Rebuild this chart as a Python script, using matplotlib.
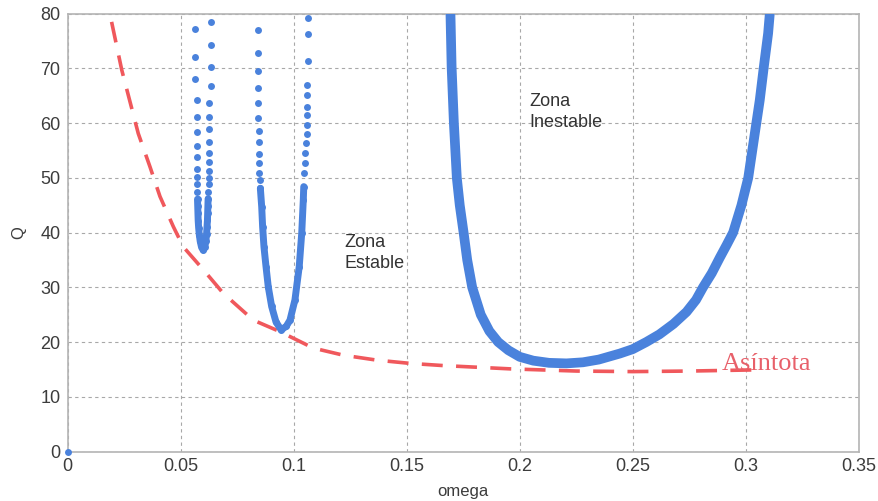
import numpy as np
import matplotlib
matplotlib.use("Agg")
import matplotlib.pyplot as plt

plt.rcParams["font.family"] = ["Liberation Sans", "DejaVu Sans"]

# curva 1 (omega ~ 0.06)
w1 = [0.0564, 0.0564, 0.0564, 0.0571, 0.0571, 0.0571, 0.0571, 0.0571, 0.0571,
      0.0572, 0.0573, 0.0574, 0.0575, 0.0576, 0.0577, 0.0578, 0.0580, 0.0583,
      0.0587, 0.0593, 0.0600, 0.0607, 0.0612, 0.0615, 0.0617, 0.0619, 0.0620,
      0.0621, 0.0622, 0.0623, 0.0624, 0.0625, 0.0626, 0.0627, 0.0627, 0.0627,
      0.0627, 0.0627, 0.0627, 0.0635, 0.0635, 0.0635, 0.0635]
q1 = [77.2, 72.0, 68.0, 64.2, 61.2, 58.3, 55.9, 53.8, 51.7,
      50.2, 48.8, 47.4, 46.1, 44.8, 43.5, 42.2, 40.9, 39.6,
      38.4, 37.3, 36.8, 37.4, 38.5, 39.7, 41.0, 42.3, 43.6,
      44.9, 46.2, 47.5, 48.8, 50.0, 51.3, 52.9, 54.5, 56.5,
      58.9, 61.2, 63.7, 66.8, 70.3, 74.2, 78.5]

# curva 2 (omega ~ 0.095)
w2 = [0.0844, 0.0844, 0.0844, 0.0844, 0.0844, 0.0844, 0.0848, 0.0848, 0.0848,
      0.0848, 0.0848, 0.0850, 0.0853, 0.0859, 0.0863, 0.0869, 0.0878, 0.0888,
      0.0903, 0.0922, 0.0945, 0.0968, 0.0984, 0.1006, 0.1025, 0.1036, 0.1043,
      0.1045, 0.1046, 0.1050, 0.1052, 0.1055, 0.1058, 0.1060, 0.1060, 0.1060,
      0.1060, 0.1060, 0.1065, 0.1065, 0.1065]
q2 = [77.0, 72.9, 69.5, 66.4, 63.6, 60.9, 58.6, 56.5, 54.4,
      52.7, 50.9, 49.6, 48.1, 44.7, 41.1, 37.4, 33.8, 30.1,
      26.5, 23.7, 22.2, 22.9, 24.0, 27.7, 33.8, 39.9, 46.0,
      48.4, 50.8, 52.7, 54.5, 56.3, 58.1, 59.7, 61.5, 63.0,
      65.1, 67.0, 71.4, 76.2, 79.2]

# curva 3 (omega ~ 0.22)
w3 = [0.1694, 0.1699, 0.1709, 0.1722, 0.1735, 0.1752, 0.1768, 0.1790, 0.1828,
      0.1866, 0.1905, 0.1950, 0.2000, 0.2060, 0.2130, 0.2207, 0.2280, 0.2350,
      0.2443, 0.2500, 0.2560, 0.2618, 0.2680, 0.2738, 0.2780, 0.2811, 0.2850,
      0.2885, 0.2915, 0.2944, 0.2981, 0.3011, 0.3040, 0.3062, 0.3080, 0.3099,
      0.3106]
q3 = [79.8, 70.3, 60.0, 50.0, 45.0, 40.0, 35.0, 30.0, 25.0,
      22.0, 20.0, 18.5, 17.3, 16.6, 16.2, 16.1, 16.3, 16.8,
      17.9, 18.7, 20.0, 21.4, 23.3, 25.5, 27.7, 30.0, 32.6,
      35.4, 37.7, 40.0, 45.0, 50.0, 58.1, 64.2, 70.3, 76.4,
      79.8]

# asintota
wa = [0.0195, 0.0240, 0.0313, 0.0365, 0.0409, 0.0468, 0.0512, 0.0601, 0.0689,
      0.0822, 0.0940, 0.1087, 0.1220, 0.1367, 0.1515, 0.1662, 0.1810, 0.1957,
      0.2104, 0.2252, 0.2500, 0.2750, 0.3025]
qa = [78.5, 69.7, 58.1, 52.0, 46.6, 41.1, 37.4, 33.2, 28.9,
      24.0, 21.9, 18.9, 17.6, 16.7, 16.1, 15.7, 15.4, 15.1,
      14.9, 14.7, 14.6, 14.7, 14.9]

azul = "#4a82dc"
rojo = "#f0585c"

fig = plt.figure(figsize=(8.79, 5.01), dpi=100)
ax = fig.add_axes([0.0768, 0.0988, 0.9002, 0.8739])

ax.plot(wa, qa, color=rojo, lw=2.6, dashes=(5.8, 3.7), zorder=2)

for w, q, dense in ((w1, q1, 47.0), (w2, q2, 49.0)):
    w = np.array(w)
    q = np.array(q)
    m = q < dense
    ax.plot(w[m], q[m], color=azul, lw=5, solid_capstyle="round", zorder=3)
    ax.plot(w, q, "o", color=azul, ms=5, mec="none", zorder=3)

ax.plot(w3, q3, color=azul, lw=7, solid_capstyle="round",
        solid_joinstyle="round", zorder=3)
ax.plot([0], [0], "o", color=azul, ms=5, mec="none", zorder=3, clip_on=False)

ax.set_xlim(0, 0.35)
ax.set_ylim(0, 80)
ax.set_xticks(np.arange(0, 0.351, 0.05))
ax.set_xticklabels(["0", "0.05", "0.1", "0.15", "0.2", "0.25", "0.3", "0.35"])
ax.set_yticks(np.arange(0, 81, 10))
ax.grid(True, color="#a8a8a8", lw=0.8, linestyle=(0, (3, 3)))
for s in ax.spines.values():
    s.set_color("#b4b4b4")
    s.set_linewidth(1.2)
ax.tick_params(length=0, labelsize=13, labelcolor="#3c3c3c", pad=5)

ax.set_xlabel("omega", fontsize=12, color="#3c3c3c", labelpad=6)
ax.set_ylabel("Q", fontsize=12, color="#3c3c3c", labelpad=10)

ax.text(0.1223, 39.7, "Zona\nEstable", fontsize=13, color="#333333",
        va="top", ha="left", linespacing=1.3)
ax.text(0.2045, 65.5, "Zona\nInestable", fontsize=13, color="#333333",
        va="top", ha="left", linespacing=1.3)
ax.text(0.2894, 14.9, "Asíntota", fontsize=19, color="#e8606a",
        family="Liberation Serif", va="baseline", ha="left")

fig.savefig("out.png", dpi=100)
